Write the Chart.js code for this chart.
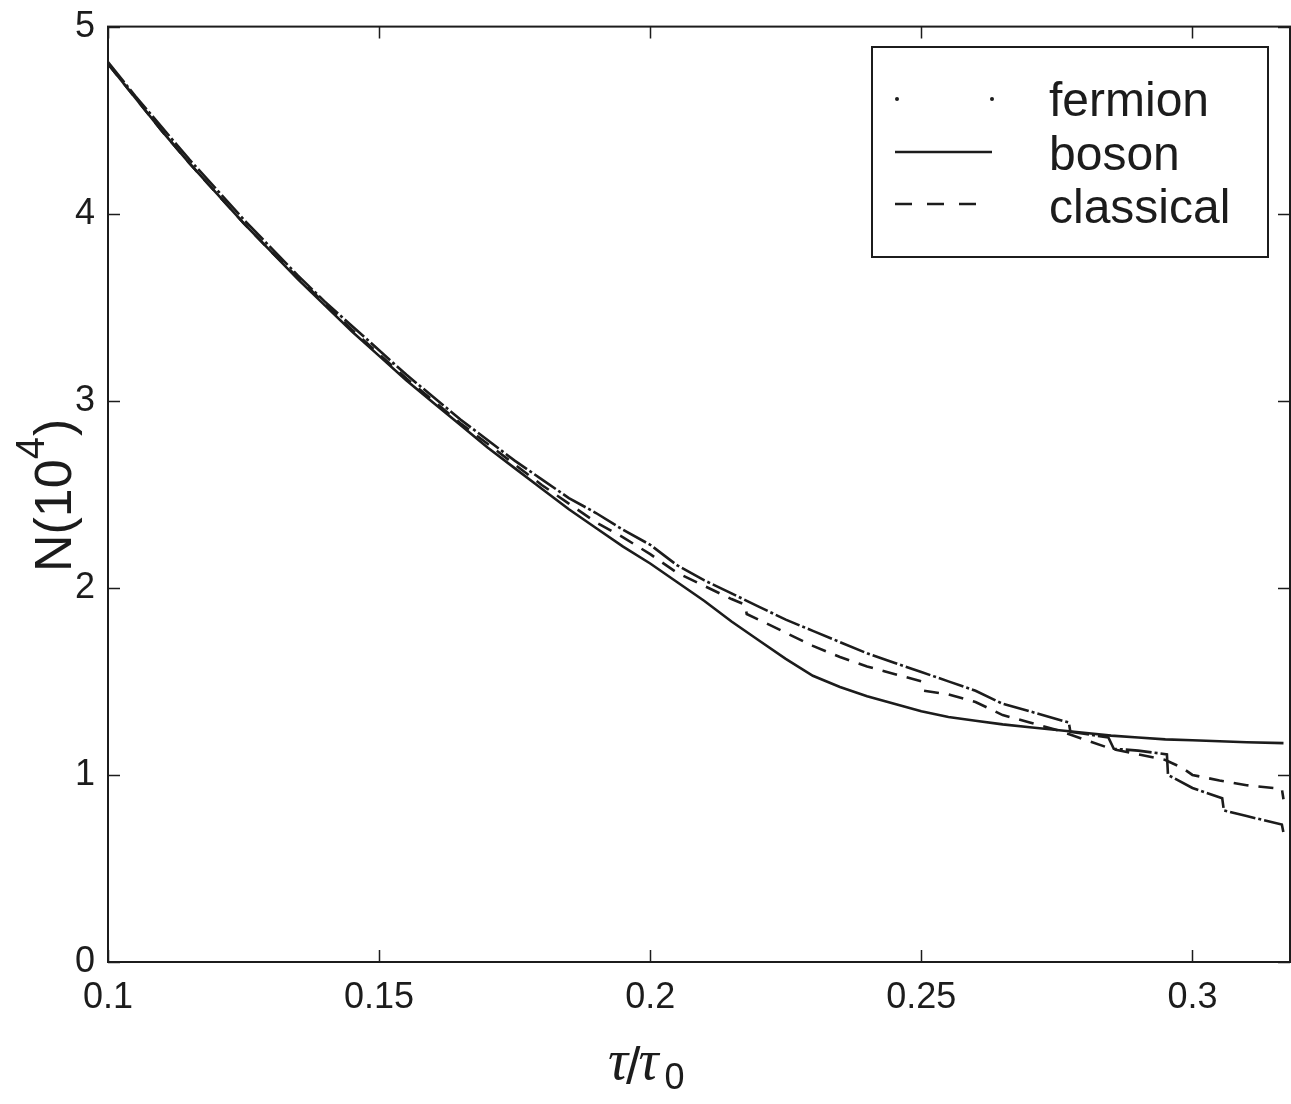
<!DOCTYPE html>
<html lang="en">
<head>
    <meta charset="UTF-8">
    <title>N vs tau/tau0</title>
    <script src="https://cdn.jsdelivr.net/npm/chart.js"></script>
    <style>
        html, body { margin: 0; padding: 0; background: #ffffff; }
        #wrap { width: 1291px; height: 1104px; }
    </style>
</head>
<body>
    <div id="wrap"><canvas id="chart" width="1291" height="1104"></canvas></div>
    <script>
        // values (N in units of 10^4)
        const fermionTau = [0.100, 0.105, 0.110, 0.115, 0.120, 0.125, 0.130, 0.135, 0.140, 0.145,
            0.150, 0.155, 0.160, 0.165, 0.170, 0.175, 0.180, 0.185, 0.190, 0.195,
            0.200, 0.205, 0.210, 0.215, 0.220, 0.225, 0.230, 0.235, 0.240, 0.245,
            0.250, 0.255, 0.260, 0.265, 0.270, 0.2772, 0.2775, 0.280, 0.2845, 0.2855,
            0.290, 0.2953, 0.2955, 0.300, 0.3055, 0.3058, 0.310, 0.3165, 0.3168];
        const fermionN = [4.81, 4.63, 4.46, 4.29, 4.13, 3.97, 3.82, 3.67, 3.53, 3.40,
            3.27, 3.14, 3.02, 2.90, 2.79, 2.68, 2.58, 2.48, 2.40, 2.31,
            2.23, 2.12, 2.04, 1.97, 1.90, 1.83, 1.77, 1.71, 1.65, 1.60,
            1.55, 1.50, 1.45, 1.38, 1.34, 1.28, 1.23, 1.22, 1.20, 1.14,
            1.13, 1.11, 1.00, 0.93, 0.875, 0.81, 0.78, 0.735, 0.69];

        const bosonTau = [0.100, 0.105, 0.110, 0.115, 0.120, 0.125, 0.130, 0.135, 0.140, 0.145,
            0.150, 0.155, 0.160, 0.165, 0.170, 0.175, 0.180, 0.185, 0.190, 0.195,
            0.200, 0.205, 0.210, 0.215, 0.220, 0.225, 0.230, 0.235, 0.240, 0.245,
            0.250, 0.255, 0.260, 0.265, 0.270, 0.275, 0.280, 0.285, 0.290, 0.295,
            0.300, 0.305, 0.310, 0.3168];
        const bosonN = [4.80, 4.62, 4.44, 4.27, 4.11, 3.95, 3.80, 3.65, 3.51, 3.37,
            3.24, 3.11, 2.99, 2.87, 2.75, 2.64, 2.53, 2.42, 2.32, 2.22,
            2.13, 2.03, 1.93, 1.82, 1.72, 1.62, 1.53, 1.47, 1.42, 1.38,
            1.34, 1.31, 1.29, 1.27, 1.255, 1.24, 1.225, 1.21, 1.20, 1.19,
            1.185, 1.18, 1.175, 1.17];

        const classicalTau = [0.100, 0.105, 0.110, 0.115, 0.120, 0.125, 0.130, 0.135, 0.140, 0.145,
            0.150, 0.155, 0.160, 0.165, 0.170, 0.175, 0.180, 0.185, 0.190, 0.195,
            0.200, 0.205, 0.210, 0.215, 0.2175, 0.2178, 0.220, 0.225, 0.230, 0.235,
            0.240, 0.245, 0.250, 0.2505, 0.255, 0.260, 0.265, 0.270, 0.275, 0.280,
            0.285, 0.290, 0.295, 0.298, 0.300, 0.305, 0.310, 0.3165, 0.3168];
        const classicalN = [4.80, 4.62, 4.44, 4.27, 4.11, 3.95, 3.80, 3.66, 3.52, 3.38,
            3.25, 3.12, 3.00, 2.88, 2.77, 2.66, 2.55, 2.45, 2.35, 2.27,
            2.18, 2.08, 2.01, 1.94, 1.91, 1.86, 1.83, 1.76, 1.69, 1.63,
            1.58, 1.54, 1.50, 1.45, 1.43, 1.39, 1.32, 1.28, 1.24, 1.19,
            1.14, 1.11, 1.08, 1.04, 1.00, 0.97, 0.945, 0.925, 0.87];

        const xTickValues = [0.1, 0.15, 0.2, 0.25, 0.3];
        const xTickLabels = ['0.1', '0.15', '0.2', '0.25', '0.3'];
        const yTickValues = [0, 1, 2, 3, 4, 5];
        const yTickLabels = ['0', '1', '2', '3', '4', '5'];
        const seriesLabels = ['fermion', 'boson', 'classical'];

        const INK = '#1c1c1c';
        const SANS = '"Liberation Sans", Arial, Helvetica, sans-serif';

        function toPoints(xs, ys) {
            return xs.map((x, i) => ({ x: x, y: ys[i] }));
        }

        // inward ticks, box, legend and axis titles like the original figure
        const frame = {
            id: 'frame',
            afterDraw(chart) {
                const ctx = chart.ctx;
                const a = chart.chartArea;
                const xs = chart.scales.x;
                const ys = chart.scales.y;
                const tl = 12;
                ctx.save();
                ctx.strokeStyle = INK;
                ctx.lineWidth = 2;
                ctx.strokeRect(a.left, a.top, a.right - a.left, a.bottom - a.top);
                ctx.beginPath();
                xTickValues.forEach(v => {
                    const p = Math.round(xs.getPixelForValue(v)) + 0.5;
                    ctx.moveTo(p, a.bottom); ctx.lineTo(p, a.bottom - tl);
                    ctx.moveTo(p, a.top); ctx.lineTo(p, a.top + tl);
                });
                yTickValues.forEach(v => {
                    const p = Math.round(ys.getPixelForValue(v)) + 0.5;
                    ctx.moveTo(a.left, p); ctx.lineTo(a.left + tl, p);
                    ctx.moveTo(a.right, p); ctx.lineTo(a.right - tl, p);
                });
                ctx.lineWidth = 1.5;
                ctx.stroke();

                // legend
                const lx = 872, ly = 47, lw = 396, lh = 210;
                ctx.fillStyle = '#ffffff';
                ctx.fillRect(lx, ly, lw, lh);
                ctx.lineWidth = 2;
                ctx.strokeRect(lx, ly, lw, lh);
                ctx.fillStyle = INK;
                ctx.font = '48px ' + SANS;
                ctx.textAlign = 'left';
                ctx.textBaseline = 'alphabetic';
                const rows = [99, 152, 204];
                const base = [116, 170, 223];
                chart.data.datasets.forEach((ds, i) => {
                    ctx.fillText(ds.label, 1049, base[i]);
                    ctx.lineWidth = 2.6;
                    if (i === 0) {
                        ctx.beginPath(); ctx.arc(897, rows[i], 2, 0, Math.PI * 2); ctx.fill();
                        ctx.beginPath(); ctx.arc(992, rows[i], 2, 0, Math.PI * 2); ctx.fill();
                    } else {
                        ctx.setLineDash(i === 2 ? [17, 15] : []);
                        ctx.beginPath();
                        ctx.moveTo(895, rows[i]); ctx.lineTo(i === 1 ? 992 : 976, rows[i]);
                        ctx.stroke();
                        ctx.setLineDash([]);
                    }
                });

                // y title: N(10^4)
                ctx.save();
                ctx.translate(71, 572);
                ctx.rotate(-Math.PI / 2);
                ctx.font = '52px ' + SANS;
                ctx.fillText('N(10', 0, 0);
                let w = ctx.measureText('N(10').width;
                ctx.font = '40px ' + SANS;
                ctx.fillText('4', w, -27);
                w += ctx.measureText('4').width + 1;
                ctx.font = '52px ' + SANS;
                ctx.fillText(')', w, 0);
                ctx.restore();

                // x title: tau/tau_0
                let x = 608;
                ctx.font = 'italic 56px "Liberation Serif", "Times New Roman", serif';
                ctx.fillText('τ', x, 1079);
                x += ctx.measureText('τ').width;
                ctx.font = '52px ' + SANS;
                ctx.fillText('/', x - 2, 1084);
                x += ctx.measureText('/').width - 4;
                ctx.font = 'italic 56px "Liberation Serif", "Times New Roman", serif';
                ctx.fillText('τ', x, 1079);
                x += ctx.measureText('τ').width + 6;
                ctx.font = '36px ' + SANS;
                ctx.fillText('0', x, 1089);
                ctx.restore();
            }
        };

        const lineStyle = {
            borderColor: INK,
            borderWidth: 2.6,
            pointRadius: 0,
            fill: false,
            tension: 0,
            borderCapStyle: 'butt'
        };

        new Chart(document.getElementById('chart'), {
            type: 'line',
            data: {
                datasets: [
                    Object.assign({ label: seriesLabels[0], data: toPoints(fermionTau, fermionN), borderDash: [26, 3, 3, 3] }, lineStyle),
                    Object.assign({ label: seriesLabels[1], data: toPoints(bosonTau, bosonN) }, lineStyle),
                    Object.assign({ label: seriesLabels[2], data: toPoints(classicalTau, classicalN), borderDash: [15, 10] }, lineStyle)
                ]
            },
            options: {
                responsive: false,
                animation: false,
                devicePixelRatio: 1,
                layout: { padding: { top: 24, right: 1, left: 0, bottom: 0 } },
                plugins: { legend: { display: false }, tooltip: { enabled: false } },
                scales: {
                    x: {
                        type: 'linear',
                        min: 0.1,
                        max: 0.318,
                        grid: { display: false },
                        border: { display: false },
                        afterBuildTicks: s => { s.ticks = xTickValues.map(v => ({ value: v })); },
                        afterFit: s => { s.height = 142; },
                        ticks: {
                            color: INK,
                            padding: 6,
                            maxRotation: 0,
                            font: { family: SANS, size: 36 },
                            callback: v => xTickLabels[xTickValues.indexOf(v)]
                        }
                    },
                    y: {
                        type: 'linear',
                        min: 0,
                        max: 5,
                        grid: { display: false },
                        border: { display: false },
                        afterBuildTicks: s => { s.ticks = yTickValues.map(v => ({ value: v })); },
                        afterFit: s => { s.width = 108; },
                        ticks: {
                            color: INK,
                            padding: 5,
                            font: { family: SANS, size: 36 },
                            callback: v => yTickLabels[yTickValues.indexOf(v)]
                        }
                    }
                }
            },
            plugins: [frame]
        });
    </script>
</body>
</html>
